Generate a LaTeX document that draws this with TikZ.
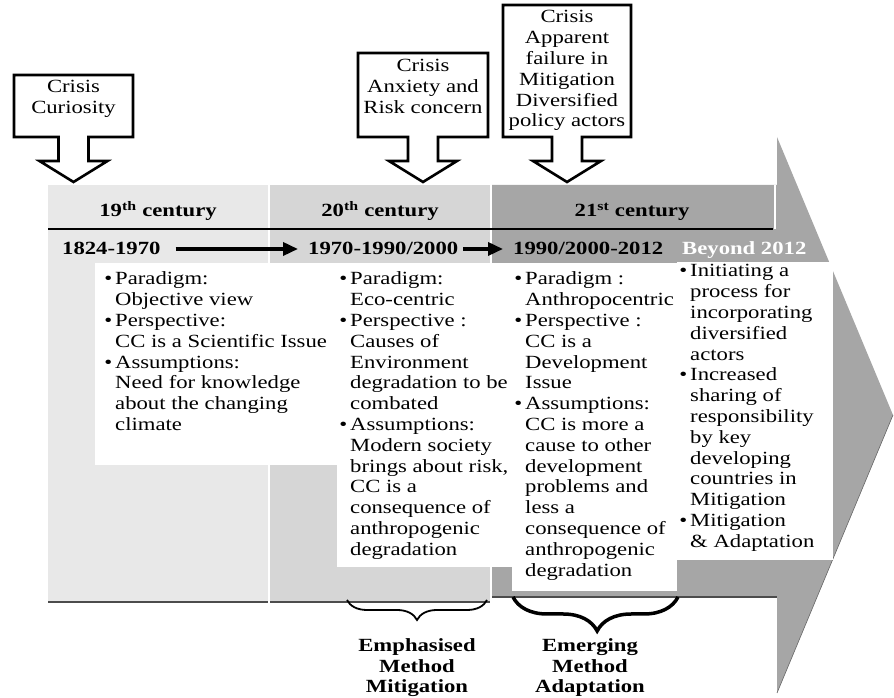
\documentclass[tikz,border=0pt]{standalone}
\usepackage{fontspec}
\setmainfont{Liberation Serif}[FakeStretch=1.22]
\usetikzlibrary{arrows.meta,decorations.pathreplacing}

\definecolor{bandA}{gray}{0.91}
\definecolor{bandB}{gray}{0.84}
\definecolor{bandC}{gray}{0.65}

\newcommand{\bodysize}{\fontsize{18.6}{20.8}\selectfont}
\newcommand{\itm}{\makebox[0pt][r]{\textbullet\hspace{3pt}}}
% crisis call-out: left, right, top, centre
\newcommand{\crisisbox}[4]{%
  \draw[line width=2.6pt, fill=white, miter limit=20]
    (#1,561) -- (#1,#3) -- (#2,#3) -- (#2,561) -- (#4+15,561) -- (#4+15,537)
    -- (#4+34,537) -- (#4,516) -- (#4-34,537) -- (#4-15,537) -- (#4-15,561) -- cycle;}

\begin{document}
\begin{tikzpicture}[x=1pt, y=1pt, font=\bodysize, >={Triangle[length=15pt,width=13pt]},
  txt/.style={align=left, inner sep=0pt, anchor=base west},
  head/.style={font=\bodysize\bfseries, inner sep=0pt, anchor=base},
  date/.style={font=\bodysize\bfseries, inner sep=0pt, anchor=base west, text height=12pt, text depth=0pt},
  crisis/.style={align=center, inner sep=0pt, anchor=base},
  method/.style={font=\bodysize\bfseries, align=center, inner sep=0pt, anchor=base}]
\useasboundingbox (0,0) rectangle (894,698);

% bands and the big arrow
\fill[bandA] (48,95) rectangle (268,513);
\fill[bandB] (270,95) rectangle (490,513);
\fill[bandC] (492,101) -- (492,513) -- (777,513) -- (777,561) -- (893,283) -- (777,5) -- (777,101) -- cycle;
\draw[black!60, line width=0.6pt] (893,283) -- (777,5);
\draw[line width=1.4pt] (48,469) -- (773,469);
\draw[white, line width=1.5pt] (775,469) -- (775,513);
\draw[black!70, line width=2.5pt] (48,96) -- (268,96) (270,96) -- (490,96);
\draw[black!70, line width=2pt] (492,101) -- (777,101);

% white text areas
\fill[white] (95,233) rectangle (337,435);
\fill[white] (337,131) rectangle (512,435);
\fill[white] (512,107) rectangle (677,435);
\fill[white] (677,138) rectangle (833,436);

% headers
\node[head] (cA) at (158,481) {19\textsuperscript{th} century};
\node[head] (cB) at (380,481) {20\textsuperscript{th} century};
\node[head] (cC) at (632,481) {21\textsuperscript{st} century};

% periods
\node[date] (dA) at (62,443) {1824-1970};
\node[date] (dB) at (308,443) {1970-1990/2000};
\node[date] (dC) at (513,443) {1990/2000-2012};
\node[date, text=white] (dD) at (682,443) {Beyond 2012};
\draw[->, line width=3.5pt, shorten <=15pt, shorten >=10pt] (dA.east) -- (dB.west);
\draw[->, line width=3.5pt, shorten <=5pt, shorten >=10pt] (dB.east) -- (dC.west);

% columns (anchored on the last line)
\node[txt] (colA) at (115,267.4) {\itm Paradigm:\\Objective view\\\itm Perspective:\\CC is a Scientific Issue\\\itm Assumptions:\\Need for knowledge\\about the changing\\climate};
\node[txt] (colB) at (350,142.6) {\itm Paradigm:\\Eco-centric\\\itm Perspective :\\Causes of\\Environment\\degradation to be\\combated\\\itm Assumptions:\\Modern society\\brings about risk,\\CC is a\\consequence of\\anthropogenic\\degradation};
\node[txt] (colC) at (525,121.8) {\itm Paradigm :\\Anthropocentric\\\itm Perspective :\\CC is a\\Development\\Issue\\\itm Assumptions:\\CC is more a\\cause to other\\development\\problems and\\less a\\consequence of\\anthropogenic\\degradation};
\node[txt] (colD) at (690,150.6) {\itm Initiating a\\process for\\incorporating\\diversified\\actors\\\itm Increased\\sharing of\\responsibility\\by key\\developing\\countries in\\Mitigation\\\itm Mitigation\\\& Adaptation};

% crisis call-outs
\crisisbox{14}{133}{623}{73.5}
\node[crisis] (crA) at (73.5,584.2) {Crisis\\Curiosity};
\crisisbox{358}{488}{645}{423}
\node[crisis] (crB) at (423,584.4) {Crisis\\Anxiety and\\Risk concern};
\crisisbox{503}{631}{693}{567}
\node[crisis] (crC) at (567,571) {Crisis\\Apparent\\failure in\\Mitigation\\Diversified\\policy actors};

% braces
\coordinate (mA) at (347,98);
\coordinate (mB) at (487,98);
\coordinate (eA) at (513,101);
\coordinate (eB) at (678,101);
\draw[decorate, decoration={brace, mirror, amplitude=20pt}, line width=1.8pt] (mA) -- (mB);
\draw[decorate, decoration={brace, mirror, amplitude=34pt, aspect=0.51}, line width=3.5pt] (eA) -- (eB);

\node[method] (emA) at (417,5) {Emphasised\\Method\\Mitigation};
\node[method] (emB) at (590,5) {Emerging\\Method\\Adaptation};
\end{tikzpicture}
\end{document}
